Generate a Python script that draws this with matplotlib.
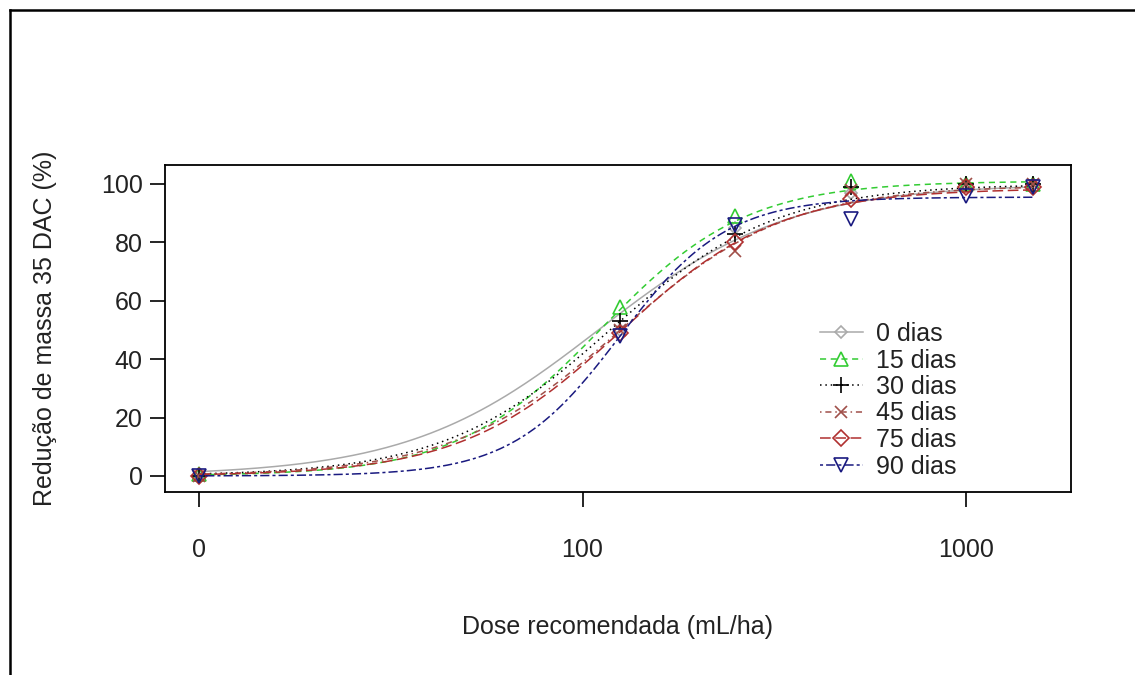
import numpy as np
import matplotlib.pyplot as plt
from matplotlib.lines import Line2D

# observed data (dose 0 is drawn at 10 on the log axis, drc style)
doses = [0, 125, 250, 500, 1000, 1500]
labels = ['0 dias', '15 dias', '30 dias', '45 dias', '75 dias', '90 dias']
resp_0 = [0.0, 50, 85, 97, 100, 100]
resp_15 = [0.5, 58, 89, 101, 100, 100]
resp_30 = [0.0, 53, 83, 99, 100, 100]
resp_45 = [0.0, 50, 77, 98, 100, 100]
resp_75 = [0.0, 49, 80, 95, 99, 99]
resp_90 = [0.0, 48, 86, 88, 96, 99]
responses = [resp_0, resp_15, resp_30, resp_45, resp_75, resp_90]

# fitted log-logistic (LL.4) parameters: slope b, lower c, upper d, ED50 e
fit_b = [-1.75, -2.3, -2.0, -2.0, -2.1, -3.1]
fit_c = [0.0, 0.0, 0.0, 0.0, 0.0, 0.0]
fit_d = [100.0, 101.0, 100.0, 99.5, 98.5, 95.5]
fit_e = [110, 112, 118, 125, 125, 125]

colors = ['#aaaaaa', '#33cc33', 'black', '#a0504a', '#b03030', '#1a1a80']
styles = ['-', (0, (4, 3)), (0, (1, 2.5)), (0, (1, 2.5, 4, 2.5)), (0, (7, 3)), (0, (2, 2, 6, 2))]
markers = ['D', '^', '+', 'x', 'D', 'v']
msizes = [6, 10, 12, 9, 8, 10]

FS = 18
TXT = '#222222'
plt.rcParams['font.family'] = ['Liberation Sans', 'DejaVu Sans']

fig = plt.figure(figsize=(11.35, 6.75), dpi=100)
ax = fig.add_axes([165 / 1135, 1 - 492 / 675, (1071 - 165) / 1135, (492 - 165) / 675])

xpos = np.array([10 if d == 0 else d for d in doses], dtype=float)
xx = np.logspace(1, np.log10(1500), 300)

for i in range(6):
    yy = fit_c[i] + (fit_d[i] - fit_c[i]) / (1 + np.exp(fit_b[i] * (np.log(xx) - np.log(fit_e[i]))))
    ax.plot(xx, yy, color=colors[i], linestyle=styles[i], linewidth=1.1)
    ax.plot(xpos, responses[i], linestyle='none', marker=markers[i], markersize=msizes[i],
            markerfacecolor='none', markeredgecolor=colors[i], markeredgewidth=1.2)

ax.set_xscale('log')
ax.set_xlim(10 ** 0.911, 10 ** 3.274)
ax.set_ylim(-5.5, 106.5)
ax.set_xticks([10, 100, 1000])
ax.set_xticklabels(['0', '100', '1000'])
ax.xaxis.set_minor_locator(plt.NullLocator())
ax.set_yticks([0, 20, 40, 60, 80, 100])
ax.tick_params(axis='both', labelsize=FS, length=11, width=1.2, color='black', labelcolor=TXT)
ax.tick_params(axis='x', pad=22)
ax.tick_params(axis='y', pad=5)
for s in ax.spines.values():
    s.set_linewidth(1.3)

ax.set_xlabel('Dose recomendada (mL/ha)', fontsize=FS, va='center', color=TXT)
ax.xaxis.set_label_coords(0.5, (492 - 627) / 327)
ax.set_ylabel('Redução de massa 35 DAC (%)', fontsize=FS, va='center', color=TXT)
ax.yaxis.set_label_coords((45 - 165) / 906, 0.5)

handles = [Line2D([], [], color=colors[i], linestyle=styles[i], linewidth=1.1,
                  marker=markers[i], markersize=msizes[i], markerfacecolor='none',
                  markeredgecolor=colors[i], markeredgewidth=1.2) for i in range(6)]
fig.legend(handles, labels, loc='upper left', bbox_to_anchor=(810 / 1135, 1 - 312 / 675),
           frameon=False, fontsize=FS, handlelength=1.7, handletextpad=0.55,
           labelspacing=0.1, borderaxespad=0, handleheight=0.7, labelcolor=TXT)

# screenshot border (left and top edges)
fig.add_artist(Line2D([10 / 1135, 10 / 1135], [0, 1 - 10 / 675], color='black', linewidth=1.8))
fig.add_artist(Line2D([10 / 1135, 1], [1 - 10 / 675, 1 - 10 / 675], color='black', linewidth=1.8))

fig.savefig('out.png', dpi=100)
